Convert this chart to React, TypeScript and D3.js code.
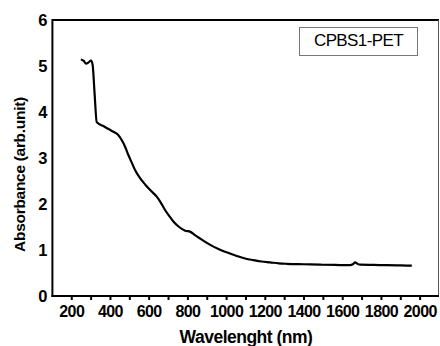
import React from "react";
import * as d3 from "d3";

// Absorbance spectrum of the CPBS1-PET film
const wavelength = [247, 262, 274, 287, 300, 308, 318, 329, 360, 390, 415, 440, 458, 475, 492, 510, 527, 553, 580, 613, 639, 660, 682, 705, 725, 755, 786, 811, 835, 863, 900, 958, 1000, 1053, 1100, 1138, 1180, 1225, 1270, 1311, 1400, 1483, 1560, 1638, 1652, 1664, 1676, 1690, 1760, 1828, 1900, 1957];
const absorbance = [5.14, 5.11, 5.05, 5.08, 5.12, 5.02, 4.4, 3.78, 3.7, 3.63, 3.57, 3.5, 3.39, 3.25, 3.07, 2.9, 2.74, 2.56, 2.42, 2.27, 2.16, 2.03, 1.87, 1.73, 1.62, 1.5, 1.42, 1.4, 1.33, 1.25, 1.15, 1.02, 0.95, 0.87, 0.81, 0.78, 0.75, 0.73, 0.71, 0.70, 0.69, 0.68, 0.675, 0.67, 0.69, 0.73, 0.70, 0.68, 0.675, 0.67, 0.665, 0.66];

const xTickValues = d3.range(200, 2001, 100);
const xLabelValues = d3.range(200, 2001, 200);
const yTickValues = [0, 1, 2, 3, 4, 5, 6];

const seriesLabel = "CPBS1-PET";
const xTitle = "Wavelenght (nm)";
const yTitle = "Absorbance (arb.unit)";

const W = 440;
const H = 346;
const left = 52.4;
const right = 439;
const top = 20;
const bottom = 296;

export default function App() {
  const x = d3.scaleLinear().domain([100, 2100]).range([left, right + 0.5]);
  const y = d3.scaleLinear().domain([0, 6]).range([bottom, top]);

  const points = wavelength.map((w, i) => [w, absorbance[i]] as [number, number]);
  const line = d3
    .line<[number, number]>()
    .x((d) => x(d[0]))
    .y((d) => y(d[1]))
    .curve(d3.curveMonotoneX);

  const font = "'Liberation Sans', Arial, sans-serif";

  return (
    <svg
      width={W}
      height={H}
      style={{ position: "absolute", left: 0, top: 0, background: "#fff" }}
      fontFamily={font}
    >
      <rect x={0} y={0} width={W} height={H} fill="#fff" />
      {/* frame */}
      <line x1={left} x2={right} y1={top} y2={top} stroke="#000" strokeWidth={2} />
      <line x1={right - 0.5} x2={right - 0.5} y1={top} y2={bottom} stroke="#555" strokeWidth={1} />
      <line x1={left} x2={left} y1={top - 1} y2={bottom + 1} stroke="#000" strokeWidth={2} />
      <line x1={left - 1} x2={right} y1={bottom} y2={bottom} stroke="#000" strokeWidth={2} />

      {/* x ticks */}
      {xTickValues.map((v) => (
        <line key={v} x1={x(v)} x2={x(v)} y1={bottom} y2={bottom + 4} stroke="#000" strokeWidth={2} />
      ))}
      {xLabelValues.map((v) => (
        <text key={v} x={x(v)} y={316.5} textAnchor="middle" fontSize={16} fontWeight="bold" letterSpacing={-0.6}>
          {v}
        </text>
      ))}

      {/* y labels */}
      {yTickValues.map((v) => (
        <text key={v} x={47.5} y={y(v)} dy="0.36em" textAnchor="end" fontSize={16.5} fontWeight="bold">
          {v}
        </text>
      ))}

      {/* spectrum */}
      <path d={line(points) ?? ""} fill="none" stroke="#000" strokeWidth={2.2} strokeLinejoin="round" />

      {/* series label box */}
      <rect x={299.5} y={27.5} width={118} height={28} fill="#fff" stroke="#777" strokeWidth={1} />
      <text x={358.5} y={46} textAnchor="middle" fontSize={17} letterSpacing={-0.6}>
        {seriesLabel}
      </text>

      {/* axis titles */}
      <text x={246} y={343} textAnchor="middle" fontSize={17.5} fontWeight="bold" letterSpacing={-0.5}>
        {xTitle}
      </text>
      <text
        transform={`translate(25, 174.5) rotate(-90)`}
        textAnchor="middle"
        fontSize={15.5}
        fontWeight="bold"
        letterSpacing={-0.3}
      >
        {yTitle}
      </text>
    </svg>
  );
}
